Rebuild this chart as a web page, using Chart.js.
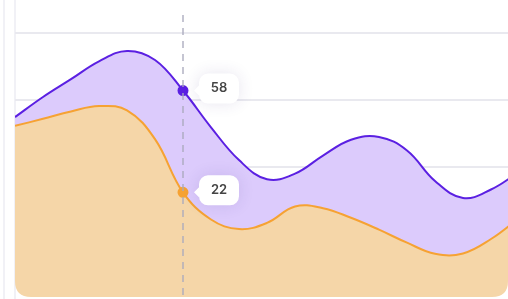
<!DOCTYPE html>
<html>
<head>
<meta charset="utf-8">
<script src="https://cdn.jsdelivr.net/npm/chart.js@4"></script>
<style>
  html, body { margin: 0; padding: 0; background: #fff; overflow: hidden; }
  #wrap { position: relative; width: 508px; height: 299px; }
  .edge { position: absolute; top: 0; bottom: 0; width: 2px; background: #f1f1f6; }
  canvas { position: absolute; left: 0; top: 0; }
</style>
</head>
<body>
<div id="wrap">
  <div class="edge" style="left:3px"></div>
  <div class="edge" style="left:14px"></div>
  <canvas id="chart" width="508" height="299"></canvas>
</div>
<script>
var xValues = [0, 1, 2, 3, 4, 5, 6, 7, 8, 9, 10, 11, 12, 13, 14, 15, 16, 17, 18];
var purpleValues = [48.6, 55.7, 62.0, 68.3, 72.0, 68.8, 58, 45.0, 33.4, 26.6, 28.6, 35.0, 40.6, 41.6, 36.8, 26.0, 20.0, 23.0, 29.2];
var orangeValues = [45.5, 48.0, 50.6, 52.5, 51.0, 40.8, 22, 12.4, 9.0, 11.2, 17.0, 16.4, 13.0, 8.8, 4.2, 0.3, 0.4, 5.5, 12.9];
var gridValues = [78.3, 54.6, 31, 7.3];
var activeIndex = 6;

function toPoints(vals){
    return vals.map(function(v, i){ return {x: xValues[i], y: v}; });
}

// clip the fills to a card with rounded bottom corners
var roundClip = {
    id: 'roundClip',
    beforeDatasetsDraw: function(chart){
        var a = chart.chartArea, ctx = chart.ctx, r = 16;
        ctx.save();
        ctx.beginPath();
        ctx.moveTo(a.left, a.top);
        ctx.lineTo(a.right, a.top);
        ctx.lineTo(a.right, a.bottom - r);
        ctx.quadraticCurveTo(a.right, a.bottom, a.right - r, a.bottom);
        ctx.lineTo(a.left + r, a.bottom);
        ctx.quadraticCurveTo(a.left, a.bottom, a.left, a.bottom - r);
        ctx.closePath();
        ctx.clip();
    },
    afterDatasetsDraw: function(chart){
        chart.ctx.restore();
    }
};

// dashed hover line plus the little value bubbles
var hoverMarks = {
    id: 'hoverMarks',
    afterDraw: function(chart){
        var ctx = chart.ctx;
        var x = chart.scales.x.getPixelForValue(xValues[activeIndex]);
        ctx.save();
        ctx.setLineDash([7, 6]);
        ctx.strokeStyle = 'rgba(170,170,188,0.9)';
        ctx.lineWidth = 1.5;
        ctx.beginPath();
        ctx.moveTo(x, 15);
        ctx.lineTo(x, chart.chartArea.bottom);
        ctx.stroke();
        ctx.setLineDash([]);

        chart.data.datasets.forEach(function(ds, di){
            var pt = chart.getDatasetMeta(di).data[activeIndex];
            var val = ds.data[activeIndex].y;
            var bx = pt.x + 16, bw = 40, bh = 30, by = pt.y - 2 - bh / 2;
            ctx.save();
            ctx.shadowColor = 'rgba(60,40,120,0.12)';
            ctx.shadowBlur = 16;
            ctx.fillStyle = '#fff';
            ctx.beginPath();
            ctx.roundRect(bx, by, bw, bh, 9);
            ctx.moveTo(bx, pt.y - 5);
            ctx.lineTo(bx - 5, pt.y);
            ctx.lineTo(bx, pt.y + 5);
            ctx.fill();
            ctx.restore();
            ctx.fillStyle = '#444';
            ctx.font = '600 13px Inter';
            ctx.textAlign = 'center';
            ctx.textBaseline = 'middle';
            ctx.fillText(String(val), bx + bw / 2, by + bh / 2);
        });
        ctx.restore();
    }
};

function pointSize(c){ return c.dataIndex === activeIndex ? 4.5 : 0; }

var ctx = document.getElementById('chart').getContext('2d');
var chart = new Chart(ctx, {
    type: 'line',
    data: {
        datasets: [{
            label: 'Orange',
            data: toPoints(orangeValues),
            borderColor: '#f6a233',
            backgroundColor: '#f5d6a8',
            pointBackgroundColor: '#f6a233',
            borderWidth: 2,
            fill: 'start'
        }, {
            label: 'Purple',
            data: toPoints(purpleValues),
            borderColor: '#5b20e2',
            backgroundColor: '#dccbfc',
            pointBackgroundColor: '#5b20e2',
            borderWidth: 2,
            fill: '-1'
        }]
    },
    options: {
        responsive: false,
        animation: false,
        layout: { padding: { left: 15, right: 0, top: 0, bottom: 2 } },
        elements: {
            line: { tension: 0.4 },
            point: { radius: pointSize, borderWidth: 0, pointStyle: 'circle' }
        },
        plugins: { legend: { display: false }, tooltip: { enabled: false } },
        scales: {
            x: { type: 'linear', min: 0, max: 493 / 28, display: false },
            y: {
                min: -15, max: 90,
                afterBuildTicks: function(s){ s.ticks = gridValues.map(function(v){ return {value: v}; }); },
                ticks: { display: false },
                border: { display: false },
                grid: { color: '#e9e9ef', lineWidth: 2, drawTicks: false }
            }
        }
    },
    plugins: [roundClip, hoverMarks]
});
</script>
</body>
</html>
